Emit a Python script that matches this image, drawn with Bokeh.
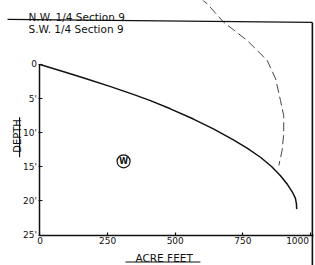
import math
from bokeh.plotting import figure
from bokeh.models import Range1d, LinearAxis, FixedTicker, ColumnDataSource
from bokeh.core.properties import value
from bokeh.embed import file_html
from bokeh.resources import INLINE

# ---- data ----
curve_acre_feet = [0, 100, 168, 261, 350, 408, 482, 567, 641, 715, 767, 815, 856, 889, 915, 933, 944, 948, 949]
curve_depth = [0, 1.2, 2.05, 3.25, 4.45, 5.3, 6.5, 8.0, 9.45, 11.05, 12.3, 13.6, 14.95, 16.3, 17.6, 18.7, 19.6, 20.4, 21.2]

dash_acre_feet = [593, 618, 679, 766, 840, 871, 889, 901, 901, 895, 883]
dash_depth = [-9.7, -8.9, -6.2, -3.52, -0.59, 2.1, 5.28, 7.5, 10.2, 12.6, 14.8]

x_ticks = [0, 250, 500, 750, 1000]
x_tick_labels = ["0", "250", "500", "750", "1000"]
y_ticks = [0, 5, 10, 15, 20, 25]
y_tick_labels = ["0", "5'", "10'", "15'", "20'", "25'"]

well_x = [309]
well_depth = [14.2]
well_label = ["W"]

section_labels = ["N.W. 1/4 Section 9", "S.W. 1/4 Section 9"]
section_label_x = [-42.5, -42.5]
section_label_depth = [-6.89, -5.13]

divider_x = [-120, 1007]
divider_depth = [-6.6, -6.16]
border_x = [1007, 1007]
border_depth = [-6.16, 29.5]

x_title = ["ACRE FEET"]
x_title_x = [459]
x_title_depth = [28.4]
x_title_underline_x = [316, 593]
x_title_underline_depth = [28.96, 28.96]

y_title = ["DEPTH"]
y_title_x = [-82]
y_title_depth = [10.48]
y_title_underline_x = [-75.5, -75.5]
y_title_underline_depth = [7.73, 13.6]

FONT = "DejaVu Sans"
INK = "#111111"

p = figure(width=315, height=265, output_backend="svg", toolbar_location=None,
           x_range=Range1d(-146, 1018.5), y_range=Range1d(29.47, -9.38),
           x_axis_type=None, y_axis_type=None,
           min_border_left=0, min_border_right=0, min_border_top=0, min_border_bottom=0)
p.grid.visible = False
p.outline_line_color = None
p.background_fill_color = "white"
p.border_fill_color = "white"

def style_axis(ax):
    ax.minor_tick_line_color = None
    ax.axis_line_width = 1.5
    ax.axis_line_color = INK
    ax.major_tick_line_color = INK
    ax.major_tick_line_width = 1.2
    ax.major_label_text_font = FONT
    ax.major_label_text_font_size = "9px"
    ax.major_label_text_color = INK
    ax.major_label_standoff = 2

# main x axis: all ticks; the last label is drawn by a right-aligned companion axis
xa = LinearAxis(fixed_location=25, bounds=(0, 1010), ticker=FixedTicker(ticks=x_ticks),
                major_label_overrides={t: (l if t != x_ticks[-1] else "")
                                       for t, l in zip(x_ticks, x_tick_labels)},
                major_tick_in=3, major_tick_out=0)
style_axis(xa)
p.add_layout(xa, "below")

xa_end = LinearAxis(fixed_location=25, ticker=FixedTicker(ticks=x_ticks[-1:]),
                    major_label_overrides={x_ticks[-1]: x_tick_labels[-1]},
                    major_tick_in=0, major_tick_out=0)
style_axis(xa_end)
xa_end.axis_line_color = None
xa_end.major_tick_line_color = None
xa_end.major_label_text_align = "right"
p.add_layout(xa_end, "below")

ya = LinearAxis(fixed_location=0, bounds=(0, 25), ticker=FixedTicker(ticks=y_ticks),
                major_label_overrides={t: l for t, l in zip(y_ticks, y_tick_labels)},
                major_tick_in=3, major_tick_out=1)
style_axis(ya)
p.add_layout(ya, "left")

# curves
p.line(curve_acre_feet, curve_depth, line_color=INK, line_width=1.5)
p.line(dash_acre_feet, dash_depth, line_color="#444444", line_width=1.0, line_dash="9 4")

# divider line and right border
p.line(divider_x, divider_depth, line_color=INK, line_width=1.3)
p.line(border_x, border_depth, line_color=INK, line_width=1.6)

# well symbol
wsrc = ColumnDataSource(dict(x=well_x, y=well_depth, t=well_label))
p.scatter("x", "y", source=wsrc, marker="circle", size=13, fill_color="white",
          line_color=INK, line_width=1.2)
p.text("x", "y", text="t", source=wsrc, text_align="center", text_baseline="middle",
       text_font=value(FONT), text_font_size="8px", text_font_style="bold", text_color=INK)

# section labels
ssrc = ColumnDataSource(dict(x=section_label_x, y=section_label_depth, t=section_labels))
p.text("x", "y", text="t", source=ssrc, text_align="left", text_baseline="alphabetic",
       text_font=value(FONT), text_font_size="10.5px", text_color=INK)

# axis titles with underlines
p.text(x_title_x, x_title_depth, text=x_title, text_align="center", text_baseline="alphabetic",
       text_font=value(FONT), text_font_size="10.5px", text_color=INK)
p.line(x_title_underline_x, x_title_underline_depth, line_color=INK, line_width=1.2)

p.text(y_title_x, y_title_depth, text=y_title, angle=math.pi / 2, text_align="center",
       text_baseline="alphabetic", text_font=value(FONT), text_font_size="10px", text_color=INK)
p.line(y_title_underline_x, y_title_underline_depth, line_color=INK, line_width=1.2)

open("out.html", "w").write(file_html(p, INLINE))
